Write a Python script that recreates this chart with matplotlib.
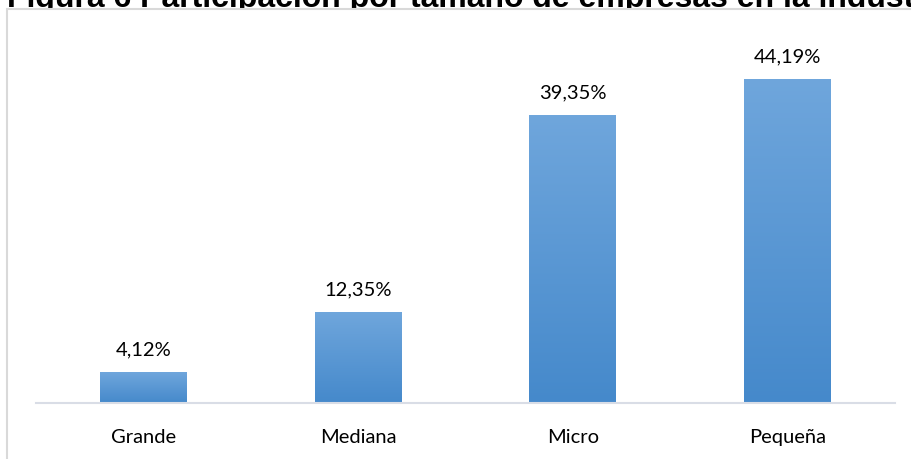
import numpy as np
import matplotlib
matplotlib.use("Agg")
import matplotlib.pyplot as plt
from matplotlib.colors import LinearSegmentedColormap
from matplotlib.patches import Rectangle

# Data
categories = ["Grande", "Mediana", "Micro", "Pequeña"]
shares = [4.12, 12.35, 39.35, 44.19]
value_labels = ["4,12%", "12,35%", "39,35%", "44,19%"]
title_text = "Figura 6 Participación por tamaño de empresas en la industria"

W, H, DPI = 911, 460, 100
fig = plt.figure(figsize=(W / DPI, H / DPI), dpi=DPI)
fig.patch.set_facecolor("white")

# Document caption sitting behind the chart object
fig.text(7 / W, 1 - 7 / H, title_text, fontsize=23, fontweight="bold",
         family="Liberation Sans", color="#000000", ha="left", va="baseline", zorder=0)

# Chart area (white box with light grey frame) covering the caption's lower part
frame = Rectangle((7 / W, -0.1), 1.2, 1 - 10 / H + 0.1, transform=fig.transFigure,
                  facecolor="white", edgecolor="#d9d9d9", linewidth=1.5, zorder=1)
fig.patches.append(frame)

ax = fig.add_axes([36 / W, 56 / H, (895 - 36) / W, (404 - 38.5) / H], zorder=2)
ax.patch.set_alpha(0)

x = np.arange(len(categories))
bars = ax.bar(x, shares, width=0.405, color="none", edgecolor="none")

# Vertical gradient fill for each bar
cmap = LinearSegmentedColormap.from_list("bar_grad", ["#4589cb", "#6fa6dc"])
grad = np.linspace(0, 1, 256).reshape(-1, 1)
for b in bars:
    x0, y0 = b.get_x(), b.get_y()
    w, h = b.get_width(), b.get_height()
    ax.imshow(grad, cmap=cmap, origin="lower", aspect="auto",
              extent=(x0, x0 + w, y0, y0 + h), zorder=2)

for b, lab in zip(bars, value_labels):
    ax.annotate(lab, (b.get_x() + b.get_width() / 2, b.get_height()),
                xytext=(0, 11), textcoords="offset points", ha="center", va="bottom",
                fontsize=14.5, family="Lato", color="#000000")

ax.set_xlim(-0.5, len(categories) - 0.5)
ax.set_ylim(0, 50)
ax.set_xticks(x)
ax.set_xticklabels(categories, fontsize=14.5, family="Lato", color="#000000")
ax.tick_params(axis="x", length=0, pad=18)
ax.set_yticks([])
for s in ["top", "right", "left"]:
    ax.spines[s].set_visible(False)
ax.spines["bottom"].set_color("#d9dde6")
ax.spines["bottom"].set_linewidth(1.5)

fig.savefig("out.png", dpi=DPI)
